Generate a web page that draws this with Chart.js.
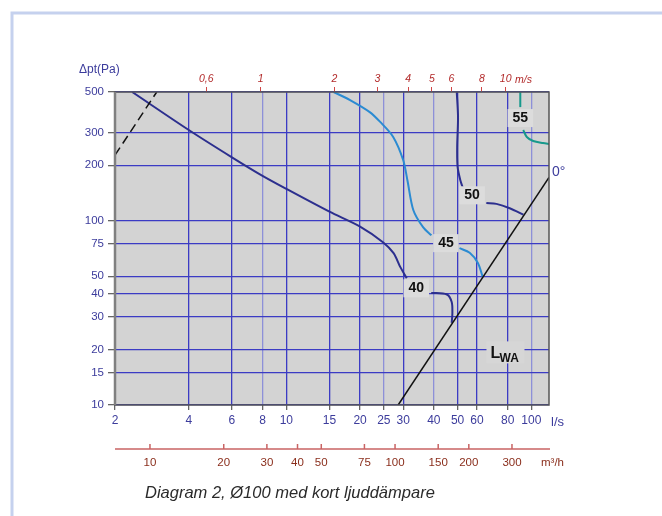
<!DOCTYPE html>
<html lang="sv">
<head>
    <meta charset="UTF-8">
    <title>Diagram 2, Ø100 med kort ljuddämpare</title>
    <script src="https://cdn.jsdelivr.net/npm/chart.js@4"></script>
    <style>
        body { margin: 0; background: #ffffff; }
        canvas { display: block; }
    </style>
</head>
<body>
    <canvas id="diagram" width="662" height="516"></canvas>

    <script>
        // axis ticks
        const flowTicks = [2, 4, 6, 8, 10, 15, 20, 25, 30, 40, 50, 60, 80, 100];      // l/s
        const pressureTicks = [10, 15, 20, 30, 40, 50, 75, 100, 200, 300, 500];        // Pa
        const velocityTicks = [0.6, 1, 2, 3, 4, 5, 6, 8, 10];                          // m/s
        const airflowM3hTicks = [10, 20, 30, 40, 50, 75, 100, 150, 200, 300];         // m3/h
        const lightGridTicks = [8, 25, 40, 100];

        const flowMin = 2, flowMax = 118;
        const ductArea = Math.PI * 0.05 * 0.05;   // Ø100
        const lsPerMs = ductArea * 1000;           // l/s at 1 m/s

        // sound level curves (l/s, Pa), split where the dB label sits
        const curve40aX = [2.35, 4.0, 6.0, 7.9, 10, 15, 20, 24.8, 27.4, 29.2, 31.0];
        const curve40aY = [500, 311, 221, 177, 149, 112, 93, 76.5, 66.7, 56, 48.7];
        const curve40bX = [39.0, 45.2, 47.3, 47.6, 47.3];
        const curve40bY = [40.6, 39.8, 36.2, 31.5, 27.9];

        const curve45aX = [15.6, 18.2, 21.9, 24.1, 27.3, 30.0, 31.2, 33.0, 36.2, 39.1];
        const curve45aY = [500, 452, 389, 345, 285, 213, 166, 114, 92, 83.4];
        const curve45bX = [50.9, 56, 60.5, 63.3];
        const curve45bY = [71, 67, 59, 49.5];

        const curve50aX = [49.6, 50.2, 49.8, 50.0, 51.3, 52.6];
        const curve50aY = [500, 366, 252, 196, 166, 150];
        const curve50bX = [65.5, 72, 81.6, 92.8];
        const curve50bY = [125, 123.5, 117, 108];

        const curve55aX = [90.1, 90.1];
        const curve55aY = [500, 414];
        const curve55bX = [92.6, 95.8, 101.7, 111.6, 118.7];
        const curve55bY = [311, 285, 271, 264, 261];

        // LWA 0° line and the dashed limit line
        const lwaX = [28.6, 118];
        const lwaY = [10, 172];
        const limitX = [2, 2.96];
        const limitY = [227, 500];

        // dB labels
        const dbLabels = ['40', '45', '50', '55'];
        const dbLabelX = [33.9, 44.8, 57.3, 90.1];
        const dbLabelY = [43, 75.6, 137.5, 361];

        const NAVY = '#2c2f8e';
        const LIGHT_BLUE = '#2b8bd2';
        const TEAL = '#17998c';
        const AXIS_TEXT = '#3c3c9c';
        const GRID = '#3b3bc4';
        const FONT = '"Liberation Sans", Arial, sans-serif';

        function pts(xs, ys) {
            return xs.map((x, i) => ({ x: x, y: ys[i] }));
        }

        function curve(xs, ys, color, extra) {
            return Object.assign({
                data: pts(xs, ys),
                showLine: true,
                borderColor: color,
                borderWidth: 2,
                pointRadius: 0,
                tension: 0.3,
                fill: false
            }, extra || {});
        }

        const frame = {
            id: 'frame',
            beforeDraw(chart) {
                const c = chart.ctx, a = chart.chartArea;
                c.save();
                c.fillStyle = '#ffffff';
                c.fillRect(0, 0, chart.width, chart.height);
                // light blue outer frame (top + left)
                c.strokeStyle = '#c5d1ee';
                c.lineWidth = 3;
                c.beginPath();
                c.moveTo(12, chart.height);
                c.lineTo(12, 13);
                c.lineTo(chart.width, 13);
                c.stroke();
                c.fillStyle = '#d3d3d3';
                c.fillRect(a.left, a.top, a.right - a.left, a.bottom - a.top);
                c.restore();
            },
            afterDatasetsDraw(chart) {
                const c = chart.ctx, a = chart.chartArea;
                const xs = chart.scales.x, ys = chart.scales.y;
                c.save();

                // plot border
                c.strokeStyle = '#555555';
                c.lineWidth = 1.5;
                c.strokeRect(a.left, a.top, a.right - a.left, a.bottom - a.top);
                c.strokeStyle = '#808080';
                c.lineWidth = 2.5;
                c.beginPath();
                c.moveTo(a.left, a.top);
                c.lineTo(a.left, a.bottom);
                c.stroke();

                // dB labels with a box hiding the grid
                c.font = 'bold 14px ' + FONT;
                c.textAlign = 'center';
                c.textBaseline = 'middle';
                dbLabels.forEach((t, i) => {
                    const px = xs.getPixelForValue(dbLabelX[i]);
                    const py = ys.getPixelForValue(dbLabelY[i]);
                    const w = c.measureText(t).width + 10;
                    c.fillStyle = '#dcdcdc';
                    c.fillRect(px - w / 2, py - 9, w, 18);
                    c.fillStyle = '#111111';
                    c.fillText(t, px, py);
                });

                // LWA
                const lx = xs.getPixelForValue(78.4), ly = ys.getPixelForValue(19.3);
                c.fillStyle = '#d6d6d6';
                c.fillRect(lx - 19, ly - 11, 38, 22);
                c.fillStyle = '#111111';
                c.textAlign = 'left';
                c.textBaseline = 'alphabetic';
                c.font = 'bold 16px ' + FONT;
                c.fillText('L', lx - 15, ly + 6);
                c.font = 'bold 12px ' + FONT;
                c.fillText('WA', lx - 6, ly + 10);

                // 0° at the end of the LWA line
                c.fillStyle = AXIS_TEXT;
                c.font = '14px ' + FONT;
                c.textBaseline = 'middle';
                c.fillText('0°', a.right + 3, ys.getPixelForValue(lwaY[1]) - 5);

                // unit labels
                c.font = '13px ' + FONT;
                c.fillText('l/s', a.right + 2, a.bottom + 17);
                c.font = '12px ' + FONT;
                c.fillText('\u0394pt(Pa)', 79, 70);
                c.fillStyle = '#b22a2a';
                c.font = 'italic 10.5px ' + FONT;
                c.fillText('m/s', 515, 80);

                // m3/h axis under the l/s axis
                const qy = 449;
                c.strokeStyle = '#c96464';
                c.lineWidth = 1.5;
                c.beginPath();
                c.moveTo(a.left, qy);
                c.lineTo(a.right + 1, qy);
                airflowM3hTicks.forEach(q => {
                    const px = xs.getPixelForValue(q / 3.6);
                    c.moveTo(px, qy);
                    c.lineTo(px, qy - 5);
                });
                c.stroke();
                c.fillStyle = '#8a2e1c';
                c.font = '11.5px ' + FONT;
                c.textAlign = 'center';
                airflowM3hTicks.forEach(q => {
                    c.fillText(String(q), xs.getPixelForValue(q / 3.6), qy + 14);
                });
                c.textAlign = 'left';
                c.fillText('m\u00b3/h', 541, qy + 14);

                // caption
                c.fillStyle = '#2a2a2a';
                c.font = 'italic 16.5px ' + FONT;
                c.fillText('Diagram 2, \u00d8100 med kort ljudd\u00e4mpare', 145, 493);
                c.restore();
            }
        };

        new Chart(document.getElementById('diagram'), {
            type: 'scatter',
            data: {
                datasets: [
                    curve(limitX, limitY, '#111111', { borderWidth: 1.5, tension: 0, borderDash: [9, 5] }),
                    curve(lwaX, lwaY, '#111111', { borderWidth: 1.5, tension: 0 }),
                    curve(curve40aX, curve40aY, NAVY),
                    curve(curve40bX, curve40bY, NAVY),
                    curve(curve45aX, curve45aY, LIGHT_BLUE),
                    curve(curve45bX, curve45bY, LIGHT_BLUE),
                    curve(curve50aX, curve50aY, NAVY),
                    curve(curve50bX, curve50bY, NAVY),
                    curve(curve55aX, curve55aY, TEAL),
                    curve(curve55bX, curve55bY, TEAL)
                ]
            },
            options: {
                responsive: false,
                animation: false,
                devicePixelRatio: 1,
                layout: { padding: { left: 0, right: 113, top: 0, bottom: 0 } },
                plugins: {
                    legend: { display: false },
                    tooltip: { enabled: false }
                },
                scales: {
                    x: {
                        type: 'logarithmic',
                        position: 'bottom',
                        min: flowMin,
                        max: flowMax,
                        afterBuildTicks: s => { s.ticks = flowTicks.map(v => ({ value: v })); },
                        afterFit: s => { s.height = 111; },
                        ticks: {
                            callback: v => String(v),
                            color: AXIS_TEXT,
                            font: { family: FONT, size: 12 },
                            autoSkip: false,
                            maxRotation: 0,
                            padding: 3
                        },
                        grid: {
                            color: ctx => lightGridTicks.includes(ctx.tick && ctx.tick.value) ? '#8d90d8' : GRID,
                            lineWidth: 1.3,
                            tickLength: 5,
                            tickColor: '#666666'
                        },
                        border: { display: false }
                    },
                    y: {
                        type: 'logarithmic',
                        position: 'left',
                        min: 10,
                        max: 500,
                        afterBuildTicks: s => { s.ticks = pressureTicks.map(v => ({ value: v })); },
                        afterFit: s => { s.width = 115; },
                        ticks: {
                            callback: v => String(v),
                            color: AXIS_TEXT,
                            font: { family: FONT, size: 11.5 },
                            autoSkip: false,
                            padding: 4
                        },
                        grid: {
                            color: GRID,
                            lineWidth: 1.3,
                            tickLength: 7,
                            tickColor: '#666666'
                        },
                        border: { display: false }
                    },
                    v: {
                        type: 'logarithmic',
                        position: 'top',
                        min: flowMin / lsPerMs,
                        max: flowMax / lsPerMs,
                        afterBuildTicks: s => { s.ticks = velocityTicks.map(v => ({ value: v })); },
                        afterFit: s => { s.height = 92; },
                        ticks: {
                            callback: v => String(v).replace('.', ','),
                            color: '#b22a2a',
                            font: { family: FONT, size: 10.5, style: 'italic' },
                            autoSkip: false,
                            maxRotation: 0,
                            padding: 2
                        },
                        grid: {
                            drawOnChartArea: false,
                            tickLength: 5,
                            tickColor: '#d04848'
                        },
                        border: { display: false }
                    }
                }
            },
            plugins: [frame]
        });
    </script>
</body>
</html>
